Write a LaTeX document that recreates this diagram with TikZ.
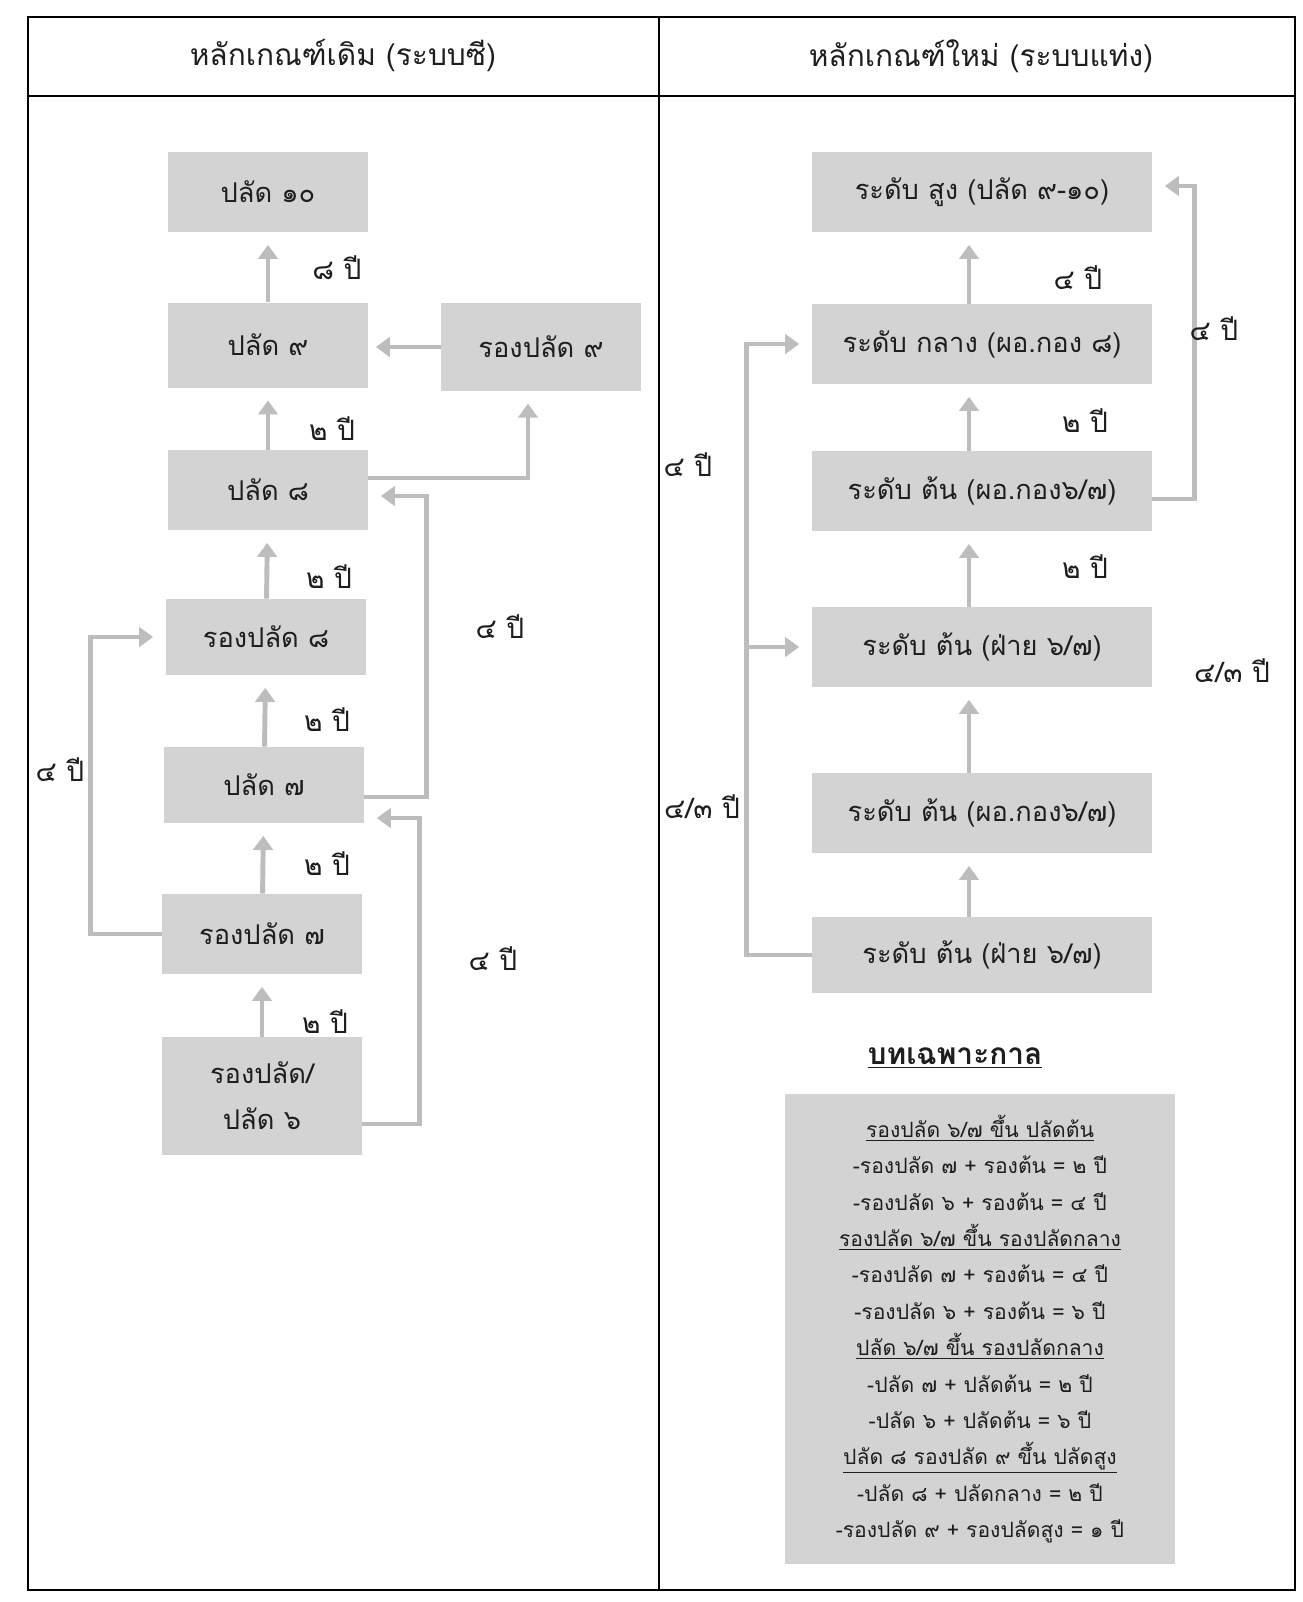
\documentclass[tikz,border=0pt]{standalone}
\usepackage{fontspec}
\newfontfamily\thaifont[Script=Thai]{Loma}
\usetikzlibrary{arrows.meta,positioning,calc}
\definecolor{cBoxF}{HTML}{D3D3D3}
\definecolor{cArrD}{HTML}{BDBDBD}
\definecolor{cInk}{HTML}{1E1E1E}
\tikzset{
  rank/.style  = {fill=cBoxF, text=cInk, inner sep=0pt, align=center,
                  font=\thaifont\fontsize{15.5}{26}\selectfont},
  lrank/.style = {rank, minimum width=40mm, minimum height=16mm},
  rrank/.style = {rank, minimum width=68mm, minimum height=16mm},
  yrs/.style   = {text=cInk, inner sep=1pt, font=\thaifont\fontsize{16}{18}\selectfont},
  head/.style  = {text=cInk, inner sep=1pt, font=\thaifont\fontsize{17}{20}\selectfont},
  notebox/.style = {fill=cBoxF, text=cInk, align=center, inner sep=0pt,
                  minimum width=78mm, minimum height=94mm,
                  font=\thaifont\fontsize{12}{20.7}\selectfont},
  promo/.style = {draw=cArrD, line width=2.8pt, shorten >=2.5mm,
                  -{Triangle[width=11pt,length=8pt]}},
  frame/.style = {draw=black, line width=0.9pt},
}

\begin{document}
\begin{tikzpicture}[x=0.2mm, y=-0.2mm]
  \useasboundingbox (0,0) rectangle (1303,1602);
  \fill[white] (0,0) rectangle (1303,1602);
  % table frame
  \draw[frame] (28,17) rectangle (1295,1590);
  \draw[frame] (28,96) -- (1295,96);
  \draw[frame] (659,17) -- (659,1590);
  \node[head] (hOld) at (343,56) {หลักเกณฑ์เดิม (ระบบซี)};
  \node[head] (hNew) at (981,56) {หลักเกณฑ์ใหม่ (ระบบแท่ง)};

  % old scheme (left)
  \node[lrank] (b10) at (268,192) {ปลัด ๑๐};
  \node[lrank, minimum height=17mm] (b9) at (268,345) {ปลัด ๙};
  \node[lrank, minimum height=17.5mm] (bd9) at (541,347) {รองปลัด ๙};
  \node[lrank] (b8) at (268,490) {ปลัด ๘};
  \node[lrank, minimum height=15.2mm] (bd8) at (266,637) {รองปลัด ๘};
  \node[lrank, minimum height=15.2mm] (b7) at (264,785) {ปลัด ๗};
  \node[lrank] (bd7) at (262,934) {รองปลัด ๗};
  \node[lrank, minimum height=23.6mm] (b6) at (262,1096) {รองปลัด/\\ปลัด ๖};
  \draw[promo] (b9) -- (b10);
  \draw[promo] (b8) -- (b9);
  \draw[promo] (bd8) -- (b8);
  \draw[promo] (b7) -- (bd8);
  \draw[promo] (bd7) -- (b7);
  \draw[promo] (b6) -- (bd7);
  \draw[promo, shorten >=1.5mm] (bd9.west) -- (bd9.west -| b9.east);
  \draw[promo] ([yshift=2.4mm]b8.east) -| ([xshift=-2.6mm]bd9.south);
  \draw[promo] ([yshift=-2.4mm]b7.east) -- ++(62,0) |- ([yshift=-1.2mm]b8.east);
  \draw[promo] ([yshift=-5.6mm]b6.east) -- ++(57,0) |- ([yshift=-6.6mm]b7.east);
  \draw[promo] (bd7.west) -- ++(-71,0) |- (bd8.west);
  \node[yrs] (y10) at (337,268) {๘ ปี};
  \node[yrs] (y9) at (332,429) {๒ ปี};
  \node[yrs] (y8) at (329,577) {๒ ปี};
  \node[yrs] (yd8) at (327,720) {๒ ปี};
  \node[yrs] (y7) at (327,864) {๒ ปี};
  \node[yrs] (yd7) at (325,1022) {๒ ปี};
  \node[yrs] (yJump8) at (500,627) {๔ ปี};
  \node[yrs] (yJump7) at (493,959) {๔ ปี};
  \node[yrs] (yLoop) at (60,770) {๔ ปี};

  % new scheme (right)
  \node[rrank] (r1) at (982,192) {ระดับ สูง (ปลัด ๙-๑๐)};
  \node[rrank] (r2) at (982,344) {ระดับ กลาง (ผอ.กอง ๘)};
  \node[rrank] (r3) at (982,491) {ระดับ ต้น (ผอ.กอง๖/๗)};
  \node[rrank] (r4) at (982,647) {ระดับ ต้น (ฝ่าย ๖/๗)};
  \node[rrank] (r5) at (982,813) {ระดับ ต้น (ผอ.กอง๖/๗)};
  \node[rrank, minimum height=15.2mm] (r6) at (982,955) {ระดับ ต้น (ฝ่าย ๖/๗)};
  \draw[promo] ([xshift=-2.6mm]r2.north) -- ([xshift=-2.6mm]r1.south);
  \draw[promo] ([xshift=-2.6mm]r3.north) -- ([xshift=-2.6mm]r2.south);
  \draw[promo] ([xshift=-2.6mm]r4.north) -- ([xshift=-2.6mm]r3.south);
  \draw[promo] ([xshift=-2.6mm]r5.north) -- ([xshift=-2.6mm]r4.south);
  \draw[promo] ([xshift=-2.6mm]r6.north) -- ([xshift=-2.6mm]r5.south);
  \draw[promo] ([yshift=-1.6mm]r3.east) -- ++(42,0) |- ([yshift=1.2mm]r1.east);
  \draw[promo] (r6.west) -- ++(-65,0) coordinate (lbend) |- (r2.west);
  \draw[promo] (lbend |- r4.west) -- (r4.west);
  \node[yrs] (yTop) at (1078,278) {๔ ปี};
  \node[yrs] (yMid) at (1085,421) {๒ ปี};
  \node[yrs] (yLow) at (1085,567) {๒ ปี};
  \node[yrs] (ySkipR) at (1214,329) {๔ ปี};
  \node[yrs] (yAltR) at (1232,671) {๔/๓ ปี};
  \node[yrs] (ySkipL) at (688,465) {๔ ปี};
  \node[yrs] (yAltL) at (702,807) {๔/๓ ปี};

  % transitional rules
  \node[head, font=\thaifont\bfseries\fontsize{17}{20}\selectfont] (ntitle) at (955,1058) {\underline{บทเฉพาะกาล}};
  \node[notebox] (notes) at (980,1329) {%
    \underline{รองปลัด ๖/๗ ขึ้น ปลัดต้น}\\
    -รองปลัด ๗ + รองต้น = ๒ ปี\\
    -รองปลัด ๖ + รองต้น = ๔ ปี\\
    \underline{รองปลัด ๖/๗ ขึ้น รองปลัดกลาง}\\
    -รองปลัด ๗ + รองต้น = ๔ ปี\\
    -รองปลัด ๖ + รองต้น = ๖ ปี\\
    \underline{ปลัด ๖/๗ ขึ้น รองปลัดกลาง}\\
    -ปลัด ๗ + ปลัดต้น = ๒ ปี\\
    -ปลัด ๖ + ปลัดต้น = ๖ ปี\\
    \underline{ปลัด ๘ รองปลัด ๙ ขึ้น ปลัดสูง}\\
    -ปลัด ๘ + ปลัดกลาง = ๒ ปี\\
    -รองปลัด ๙ + รองปลัดสูง = ๑ ปี};
\end{tikzpicture}
\end{document}
